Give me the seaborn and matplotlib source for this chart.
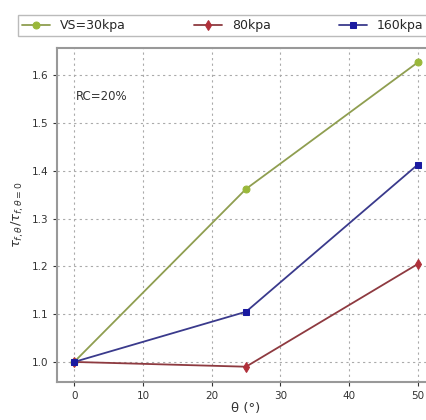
import matplotlib
matplotlib.use("Agg")
import matplotlib.pyplot as plt
import seaborn as sns
import pandas as pd

theta = [0, 25, 50]
vs30 = [1.0, 1.362, 1.627]
vs80 = [1.0, 0.990, 1.205]
vs160 = [1.0, 1.105, 1.413]
labels = ["VS=30kpa", "80kpa", "160kpa"]

sns.set_style("white")
plt.rcParams['font.family'] = ['DejaVu Sans']

fig = plt.figure(figsize=(4.27, 4.20), dpi=100)
ax = fig.add_axes([57/427, 38/420, 378/427, 334/420])

series = [vs30, vs80, vs160]
colors = ["#9ab83a", "#b0303a", "#1a1aa0"]
lcolors = ["#8f9e50", "#8e3a40", "#3a3a8c"]
markers = ["o", "d", "s"]
for vals, lab, c, lc, m in zip(series, labels, colors, lcolors, markers):
    df = pd.DataFrame({"theta": theta, "ratio": vals})
    sns.lineplot(data=df, x="theta", y="ratio", ax=ax, color=lc, marker=m,
                 markerfacecolor=c, markeredgecolor=c, markersize=5,
                 linewidth=1.3, label=lab)

ax.set_xlim(-2.5, 52.5)
ax.set_ylim(0.958, 1.657)
ax.set_xticks([0, 10, 20, 30, 40, 50])
ax.set_yticks([1.0, 1.1, 1.2, 1.3, 1.4, 1.5, 1.6])
ax.set_yticklabels(["1.0", "1.1", "1.2", "1.3", "1.4", "1.5", "1.6"])
ax.tick_params(axis="both", labelsize=7.5, length=3, width=0.8, direction="out",
               colors="#333333", bottom=True, left=True)
ax.grid(True, linestyle=(0, (2, 3)), color="#aaaaaa", linewidth=0.8)
for s in ax.spines.values():
    s.set_color("#999999")
    s.set_linewidth(1.5)
ax.spines["right"].set_visible(False)

ax.set_xlabel("θ (°)", fontsize=9.5, color="#333333", labelpad=1)
ax.set_ylabel(r"$\tau_{f,\theta}/\tau_{f,\theta=0}$", fontsize=9.5, color="#333333", labelpad=4)
ax.text(0.05, 0.856, "RC=20%", transform=ax.transAxes, fontsize=8.5, color="#333333",
        va="center")

leg = ax.legend(loc="lower left", bbox_to_anchor=(-0.104, 1.035),
                ncol=3, fontsize=9, frameon=True, fancybox=False,
                borderaxespad=0, handlelength=2.2, columnspacing=5.5,
                borderpad=0.35)
leg.get_frame().set_edgecolor("#aaaaaa")
leg.get_frame().set_linewidth(1.0)

fig.savefig("out.png", dpi=100)
